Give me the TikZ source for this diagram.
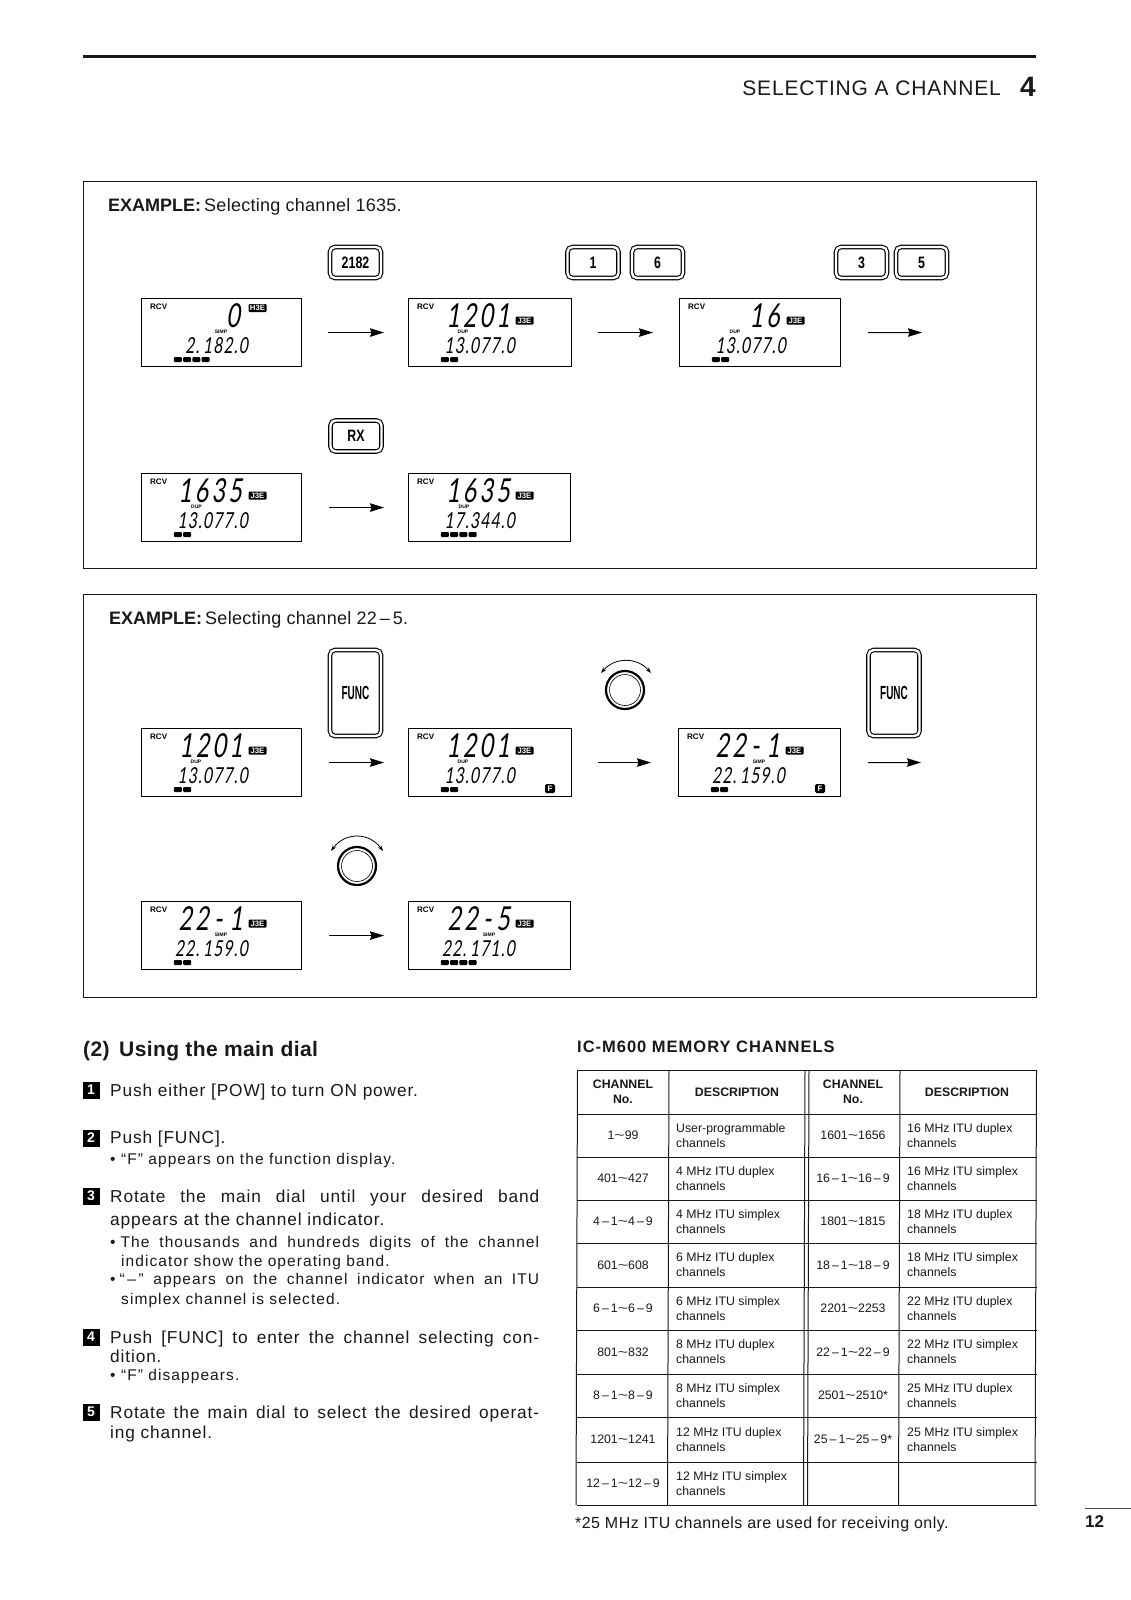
\documentclass[tikz,border=0pt]{standalone}
\usepackage{fontspec}
\setmainfont{Liberation Sans}
\newfontfamily\lcdfont[FakeSlant=0.16,FakeStretch=0.7]{Lato}
\newfontfamily\keyfont[FakeStretch=0.75]{Liberation Sans Bold}
\usetikzlibrary{arrows.meta,calc}
\newcommand\fs[1]{\fontsize{#1}{#1}\selectfont}
\newcommand\tld{\scalebox{1.45}[1]{\textasciitilde}}
\newcommand\mn{\,–\,}
\newcommand\ls[1]{\addfontfeature{LetterSpace=#1}}
\tikzset{
  x=1pt,y=-1pt,
  panel/.style={draw=black!90,line width=1pt},
  lcdframe/.style={draw=black,line width=1.1pt,minimum height=68pt,anchor=north west,inner sep=0pt},
  txt/.style={inner sep=0pt,anchor=base west,text=black!90},
  ex/.style={txt,font=\fs{18}},
  body/.style={txt,font=\fs{17.3}\ls{5}},
  sub/.style={txt,font=\fs{15.5}\ls{7}},
  numbox/.style={fill=black,text=white,inner sep=0pt,minimum size=17pt,font=\fs{14}\bfseries},
  keybtn/.style={draw=black,line width=1.1pt,double=white,double distance=2.4pt,rounded corners=5pt,inner sep=0pt,minimum width=51pt,minimum height=31pt,font=\keyfont\fs{16.5}},
  flow/.style={line width=1pt,-{Stealth[inset=1.5pt,length=14pt,width=8.5pt]}},
  turn/.style={line width=.8pt,{Stealth[length=6pt,width=4pt]}-{Stealth[length=6pt,width=4pt]}},
  badge/.style={fill=black,text=white,rounded corners=1pt,inner sep=0pt,minimum width=18pt,minimum height=8pt,font=\fs{7.8}\bfseries},
  fbadge/.style={fill=black,text=white,rounded corners=1.5pt,inner sep=0pt,minimum width=10pt,minimum height=9pt,font=\fs{8}\bfseries},
  bar/.style={fill=black,rounded corners=1pt,inner sep=0pt,minimum width=8pt,minimum height=5pt},
  cell/.style={inner sep=0pt,text=black!90,font=\fontsize{12.3}{15}\selectfont,align=center},
  dcell/.style={cell,align=left,anchor=west},
  hcell/.style={cell,font=\fontsize{12.3}{15.5}\selectfont\bfseries},
  grid/.style={line width=1pt,draw=black!90},
  dialo/.style={circle,draw=black,line width=2.2pt,minimum size=38pt,inner sep=0pt},
  diali/.style={circle,draw=black,line width=.6pt,minimum size=31pt,inner sep=0pt},
}
% name, x, y, w, big text, big right, badge text, badge y, label
\newcommand\lcd[9]{%
  \def\Lname{#1}\def\Lx{#2}\def\Ly{#3}\def\Lw{#4}\def\Lbig{#5}\def\Lbr{#6}\def\Lbadge{#7}\def\Lby{#8}\def\Llab{#9}\lcdrest}
% label x, freq, bars, F flag
\newcommand\lcdrest[4]{%
  \node[lcdframe,minimum width=\Lw pt] (\Lname) at (\Lx,\Ly) {};
  \begin{scope}[shift={(\Lx,\Ly)}]
    \node[inner sep=0pt,anchor=base west,font=\fs{8}\bfseries] (\Lname-rcv) at (9,11) {RCV};
    \node[inner sep=0pt,anchor=base east,font=\lcdfont\fs{33}] (\Lname-big) at (\Lbr,29) {\ls{10}\Lbig};
    \node[badge] (\Lname-mode) at (116.5,\Lby) {\Lbadge};
    \node[inner sep=0pt,font=\fs{5}\bfseries] (\Lname-lab) at (#1,33.5) {\Llab};
    \node[inner sep=0pt,anchor=base east,font=\lcdfont\fs{22}] (\Lname-freq) at (107,55) {\ls{6}#2};
    \foreach \i in {1,...,#3} {\node[bar] (\Lname-bar\i) at ({27.5+9.3*\i},61.5) {};}
    \ifnum#4=1 \node[fbadge] (\Lname-f) at (142,60.5) {F};\fi
  \end{scope}
}
\newcommand\trow[5]{%
  \node[cell] at (623,#1) {#2};
  \node[dcell] at (676,#1) {#3};
  \node[cell] at (853,#1) {#4};
  \node[dcell] at (907,#1) {#5};
}
\begin{document}
\begin{tikzpicture}
\useasboundingbox (0,0) rectangle (1131,1600);
\fill[white] (0,0) rectangle (1131,1600);
% header
\draw[line width=3pt,black!90] (83,57) -- (1036,57);
\node[txt,anchor=base east,font=\fs{21}\ls{4}] (title) at (1001,96) {SELECTING A CHANNEL};
\node[txt,anchor=base east,font=\fs{28}\bfseries] (chap) at (1036,97) {4};
% panels
\node[panel,minimum width=953pt,minimum height=387pt,anchor=north west,inner sep=0pt] (panelA) at (83,181) {};
\node[panel,minimum width=953pt,minimum height=403pt,anchor=north west,inner sep=0pt] (panelB) at (83,594) {};
\node[ex] (exA) at (108,211) {\textbf{EXAMPLE:}\kern-2pt{} {\ls{1.5}Selecting channel 1635.}};
\node[ex] (exB) at (109,624) {\textbf{EXAMPLE:}\kern-2pt{} {\ls{1.5}Selecting channel 22\,–\,5.}};
% keys row 1
\node[keybtn] (k2182) at (355.5,262.5) {2182};
\node[keybtn] (k1) at (593,262.5) {1};
\node[keybtn] (k6) at (657.5,262.5) {6};
\node[keybtn] (k3) at (861.5,262.5) {3};
\node[keybtn] (k5) at (921.5,262.5) {5};
\node[keybtn] (krx) at (356,436) {RX};
\node[keybtn,minimum height=86pt] (fa) at (355.5,693) {\scalebox{.7}[1]{\fs{19}FUNC}};
\node[keybtn,minimum height=86pt] (fb) at (894,693) {\scalebox{.7}[1]{\fs{19}FUNC}};
% displays panel A
\lcd{a1}{141}{298}{160}{0}{99}{H3E}{10}{SIMP}{80}{2.\kern4pt 182.0}{4}{0}
\lcd{a2}{408}{298}{163}{1201}{102}{J3E}{22.5}{DUP}{55}{13.077.0}{2}{0}
\lcd{a3}{679}{298}{161}{16}{101}{J3E}{22.5}{DUP}{56}{13.077.0}{2}{0}
\lcd{a4}{141}{473}{160}{1635}{101}{J3E}{22.5}{DUP}{55.5}{13.077.0}{2}{0}
\lcd{a5}{408}{473}{161.5}{1635}{102}{J3E}{22.5}{DUP}{56}{17.344.0}{4}{0}
% displays panel B
\lcd{b1}{141}{728}{160}{1201}{102}{J3E}{22.5}{DUP}{55}{13.077.0}{2}{0}
\lcd{b2}{408}{728}{163}{1201}{102}{J3E}{22.5}{DUP}{55}{13.077.0}{2}{1}
\lcd{b3}{678}{728}{162}{22\kern5pt-\kern7pt 1}{102}{J3E}{22.5}{SIMP}{81}{22.\kern4pt 159.0}{2}{1}
\lcd{b4}{141}{901}{160}{22\kern5pt-\kern7pt 1}{102}{J3E}{22.5}{SIMP}{80}{22.\kern4pt 159.0}{2}{0}
\lcd{b5}{408}{901}{161.5}{22\kern5pt-\kern5pt 5}{102}{J3E}{22.5}{SIMP}{81}{22.\kern4pt 171.0}{4}{0}
\coordinate (aend) at (922,332.5);
\coordinate (bend) at (921,762.5);
\draw[flow,shorten <=26pt,shorten >=24pt] (a1) -- (a2);
\draw[flow,shorten <=26pt,shorten >=26pt] (a2) -- (a3);
\draw[flow,shorten <=27pt] (a3.east) -- (aend);
\draw[flow,shorten <=27pt,shorten >=24pt,yshift=2pt] (a4) -- (a5);
\draw[flow,shorten <=27pt,shorten >=24pt,yshift=1pt] (b1) -- (b2);
\draw[flow,shorten <=26pt,shorten >=27pt,yshift=1pt] (b2) -- (b3);
\draw[flow,shorten <=27pt,yshift=1pt] (b3.east) -- (bend);
\draw[flow,shorten <=27pt,shorten >=24pt,yshift=3pt] (b4) -- (b5);
% dials
\node[dialo] (da) at (625,690) {};
\node[diali] (dai) at (625,690) {};
\coordinate (dal) at (601,673); \coordinate (dar) at (651,673);
\draw[turn] (dal) .. controls (615,657) and (637,657) .. (dar);
\node[dialo] (db) at (357,866) {};
\node[diali] (dbi) at (357,866) {};
\coordinate (dbl) at (331,851); \coordinate (dbr) at (383,851);
\draw[turn] (dbl) .. controls (345,832) and (369,832) .. (dbr);
% left column
\node[txt,font=\fs{21}\bfseries\ls{2}] (h2a) at (83,1056) {(2)};
\node[txt,font=\fs{21}\bfseries\ls{2}] (h2b) at (119,1056) {Using the main dial};
\node[numbox] (n1) at (91,1090) {1};
\node[body] (s1) at (110,1096) {Push either [POW] to turn ON power.};
\node[numbox] (n2) at (91,1138) {2};
\node[body] (s2) at (110,1143) {Push [FUNC].};
\node[sub] (s2a) at (110,1164) {• “F” appears on the function display.};
\node[numbox] (n3) at (91,1196) {3};
\node[body] (s3) at (110,1202) {\makebox[429pt][s]{Rotate the main dial until your desired band}};
\node[body] (s3b) at (110,1225) {appears at the channel indicator.};
\node[sub] (s3c) at (110,1247) {\makebox[429pt][s]{•\kern 5pt The thousands and hundreds digits of the channel}};
\node[sub] (s3d) at (121,1266) {indicator show the operating band.};
\node[sub] (s3e) at (110,1284) {\makebox[429pt][s]{•\kern 4pt “\,–\,” appears on the channel indicator when an ITU}};
\node[sub] (s3f) at (121,1304) {simplex channel is selected.};
\node[numbox] (n4) at (91,1337) {4};
\node[body] (s4) at (110,1343) {\makebox[429pt][s]{Push [FUNC] to enter the channel selecting con-}};
\node[body] (s4b) at (110,1362) {dition.};
\node[sub] (s4c) at (110,1380) {• “F” disappears.};
\node[numbox] (n5) at (91,1412) {5};
\node[body] (s5) at (110,1418) {\makebox[429pt][s]{Rotate the main dial to select the desired operat-}};
\node[body] (s5b) at (110,1438) {ing channel.};
% table
\node[txt,font=\fs{16.5}\bfseries\ls{6}] (ttl) at (577,1052) {IC-M600 MEMORY CHANNELS};
\foreach \r in {1070,1114,1157,1200,1243,1287,1330,1374,1417,1462,1505} \draw[grid] (577,\r) -- (1036.5,\r);
\foreach \c in {577.5,669,805,809,900,1036.5} \draw[grid] (\c,1070) -- (\c-1.5,1505);
\node[hcell] (hc1) at (623,1092) {CHANNEL\\No.};
\node[hcell] (hc2) at (737,1092) {DESCRIPTION};
\node[hcell] (hc3) at (853,1092) {CHANNEL\\No.};
\node[hcell] (hc4) at (967,1092) {DESCRIPTION};
\trow{1135.5}{1\tld99}{User-programmable\\channels}{1601\tld1656}{16 MHz ITU duplex\\channels}
\trow{1178.5}{401\tld427}{4 MHz ITU duplex\\channels}{16\mn1\tld16\mn9}{16 MHz ITU simplex\\channels}
\trow{1221.5}{4\mn1\tld4\mn9}{4 MHz ITU simplex\\channels}{1801\tld1815}{18 MHz ITU duplex\\channels}
\trow{1265}{601\tld608}{6 MHz ITU duplex\\channels}{18\mn1\tld18\mn9}{18 MHz ITU simplex\\channels}
\trow{1308.5}{6\mn1\tld6\mn9}{6 MHz ITU simplex\\channels}{2201\tld2253}{22 MHz ITU duplex\\channels}
\trow{1352}{801\tld832}{8 MHz ITU duplex\\channels}{22\mn1\tld22\mn9}{22 MHz ITU simplex\\channels}
\trow{1395.5}{8\mn1\tld8\mn9}{8 MHz ITU simplex\\channels}{2501\tld2510*}{25 MHz ITU duplex\\channels}
\trow{1439.5}{1201\tld1241}{12 MHz ITU duplex\\channels}{25\mn1\tld25\mn9*}{25 MHz ITU simplex\\channels}
\node[cell] (c91) at (623,1483.5) {12\mn1\tld12\mn9};
\node[dcell] (c92) at (676,1483.5) {12 MHz ITU simplex\\channels};
\node[txt,font=\fs{16}\ls{2.8}] (foot) at (575,1528) {*25 MHz ITU channels are used for receiving only.};
\node[txt,font=\fs{17}\bfseries] (page) at (1085,1527) {12};
\draw[line width=.7pt,black!70] (1085,1508.5) -- (1131,1508.5);
\end{tikzpicture}
\end{document}
